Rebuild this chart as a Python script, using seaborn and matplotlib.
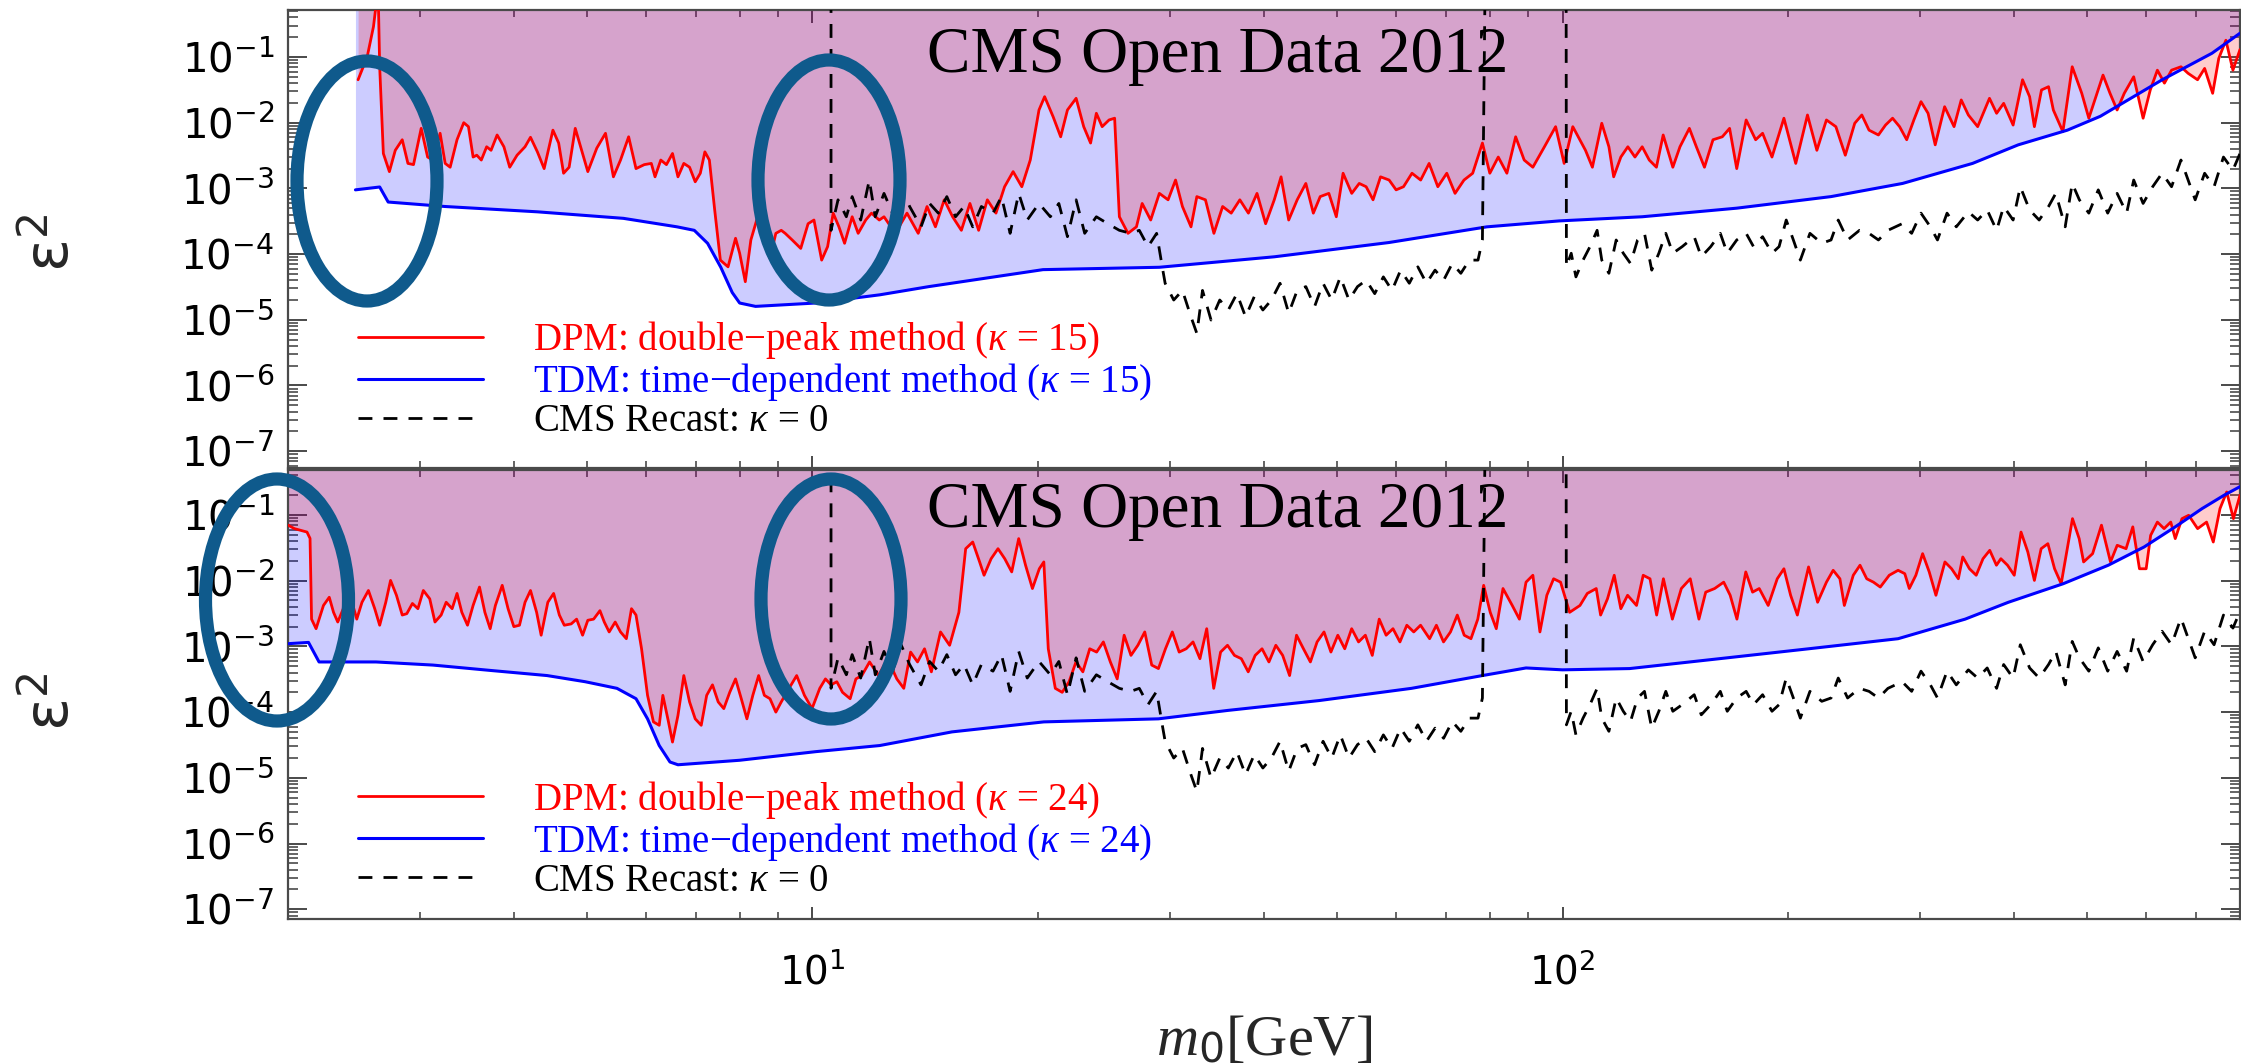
import numpy as np
import matplotlib
matplotlib.use("Agg")
import matplotlib.pyplot as plt
import seaborn as sns
from matplotlib.patches import Ellipse
from matplotlib.ticker import LogLocator, NullFormatter

# ---------------- data ----------------
top_red_x = [2.48, 2.55, 2.60, 2.62, 2.64, 2.65, 2.68, 2.73, 2.78, 2.84, 2.89, 2.94, 3.01, 3.07, 3.12, 3.19, 3.24, 3.29, 3.36, 3.43,
             3.48, 3.53, 3.57, 3.62, 3.68, 3.73, 3.80, 3.88, 3.95, 4.04, 4.14, 4.21, 4.30, 4.39, 4.51, 4.59, 4.66, 4.74, 4.83, 4.94,
             5.02, 5.16, 5.30, 5.43, 5.55, 5.69, 5.82, 5.97, 6.10, 6.17, 6.28, 6.39, 6.51, 6.62, 6.74, 6.86, 6.98, 7.09, 7.19, 7.29,
             7.41, 7.54, 7.72, 7.90, 8.00, 8.14, 8.28, 8.43, 8.60, 8.78, 8.94, 9.09, 9.20, 9.40, 9.65, 9.87, 10.05, 10.29, 10.48, 10.66,
             10.85, 11.04, 11.30, 11.51, 11.78, 11.99, 12.28,
             12.46, 12.90, 13.37, 13.84, 14.22, 14.59, 14.99, 15.38, 15.80, 16.22, 16.66, 17.11, 17.57, 18.04, 18.52, 19.02, 19.52,
             20.05, 20.40, 20.94, 21.43, 21.88, 22.47, 23.0, 23.49, 23.91, 24.34, 24.86, 25.29, 25.66, 26.35, 27.04, 27.52, 28.25,
             29.01, 29.80, 30.49, 31.14, 31.97, 32.55, 33.42, 34.3, 35.23, 36.17, 37.14, 38.13, 39.15, 40.2, 41.28, 42.15, 43.15,
             44.29, 45.48, 46.54, 47.53, 48.81, 49.94, 50.99, 52.36, 53.58, 54.73, 55.9, 57.2, 58.73, 60.0, 61.38, 63.0, 64.7, 66.4,
             68.2, 70.1, 71.9, 73.9, 75.9, 78.2, 80.0, 82.1, 84.3, 86.6, 88.9, 91.3, 94.6, 97.9, 100.5, 103.2,
             107.3, 109.6, 112.8, 115.3, 117.0, 119.6, 122.2, 124.9, 127.7, 130.5, 133.4, 136.2, 140.3, 143.4, 147.6, 150.8, 154.6,
             158.7, 163.3, 167.0, 170.7, 175.7, 180.9, 184.8, 190.2, 197.3, 204.6, 212.1, 218.3, 224.8, 231.4, 238.2, 245.2, 250.6,
             256.2, 263.7, 269.5, 275.4, 281.4, 287.6, 294.0, 300.5, 307.1, 313.9, 323.1, 332.6, 340.0, 347.5, 357.6, 370.8, 379.0,
             387.3, 398.7, 410.4, 419.4, 425.6, 435.0, 444.5, 451.1, 464.5, 478.0, 492.2, 503.0, 525.4, 536.8, 548.6, 560.8, 577.3,
             594.2, 607.4, 620.8, 634.4, 648.4, 667.4, 682.1, 702.3, 717.7, 735.6, 749.5, 766.1, 782.8, 800.0]
top_red_y = [0.045, 0.1, 0.29, 0.6, 0.6, 0.071, 3.4e-3, 1.8e-3, 3.8e-3, 5.5e-3, 2.4e-3, 2.3e-3, 8.2e-3, 3.0e-3, 2.7e-3, 6.9e-3,
             2.4e-3, 2.1e-3, 5.5e-3, 1.0e-2, 8.7e-3, 3.0e-3, 3.2e-3, 2.7e-3, 4.3e-3, 3.8e-3, 6.5e-3, 4.3e-3, 2.1e-3, 3.2e-3,
             4.3e-3, 6.0e-3, 3.6e-3, 2.0e-3, 7.7e-3, 4.9e-3, 1.7e-3, 2.1e-3, 8.2e-3, 3.4e-3, 1.8e-3, 4.1e-3, 6.9e-3, 1.5e-3,
             2.7e-3, 6.1e-3, 2.0e-3, 2.3e-3, 2.4e-3, 1.5e-3, 2.7e-3, 2.3e-3, 3.4e-3, 1.5e-3, 2.4e-3, 2.1e-3, 1.26e-3, 1.7e-3,
             3.6e-3, 2.7e-3, 4.7e-4, 8.1e-5, 6.4e-5, 1.74e-4, 1.03e-4, 3.8e-5, 1.64e-4, 3.3e-4, 1.64e-4, 8.6e-5, 2.07e-4, 2.3e-4,
             2.07e-4, 1.64e-4, 1.22e-4, 2.9e-4, 3.3e-4, 8.1e-5, 1.3e-4, 4.2e-4, 2.6e-4, 1.46e-4, 3.7e-4, 2.07e-4, 3.3e-4, 4.2e-4,
             3.3e-4,
             3.7e-4, 2.07e-4, 4.2e-4, 2.07e-4, 5.3e-4, 2.6e-4, 6.7e-4, 3.7e-4, 2.3e-4, 5.9e-4, 2.3e-4, 6.7e-4, 4.2e-4, 1.06e-3,
             1.8e-3, 1.06e-3, 2.7e-3, 0.0156, 0.0249, 0.0123, 6.1e-3, 0.0156, 0.0235, 8.7e-3, 4.9e-3, 0.0139, 8.7e-3, 0.011, 0.0117,
             3.7e-4, 2.07e-4, 2.6e-4, 5.9e-4, 3.3e-4, 8.4e-4, 6.7e-4, 1.34e-3, 5.3e-4, 2.6e-4, 7.5e-4, 6.7e-4, 2.07e-4, 5.3e-4,
             4.2e-4, 6.7e-4, 4.2e-4, 8.4e-4, 2.9e-4, 6.7e-4, 1.5e-3, 3.3e-4, 6.7e-4, 1.19e-3, 4.2e-4, 7.5e-4, 8.4e-4, 3.7e-4,
             1.7e-3, 8.4e-4, 1.19e-3, 1.06e-3, 6.7e-4, 1.5e-3, 1.34e-3, 9.5e-4, 1.06e-3, 1.7e-3, 1.34e-3, 2.4e-3, 1.06e-3, 1.7e-3,
             8.4e-4, 1.34e-3, 1.7e-3, 4.9e-3, 1.7e-3, 3.0e-3, 1.7e-3, 6.1e-3, 2.7e-3, 2.1e-3, 4.3e-3, 8.7e-3, 2.4e-3, 8.7e-3,
             3.8e-3, 2.1e-3, 9.8e-3, 4.3e-3, 1.5e-3, 3.0e-3, 4.3e-3, 3.0e-3, 4.3e-3, 2.7e-3, 2.1e-3, 6.5e-3, 2.1e-3, 4.3e-3,
             8.2e-3, 4.3e-3, 2.1e-3, 5.5e-3, 6.1e-3, 8.2e-3, 2.0e-3, 0.011, 5.5e-3, 6.9e-3, 3.0e-3, 0.0117, 2.4e-3, 0.0131,
             3.8e-3, 0.011, 8.7e-3, 3.2e-3, 9.8e-3, 0.0131, 7.7e-3, 6.5e-3, 9.2e-3, 0.0117, 8.7e-3, 5.5e-3, 0.011, 0.0209, 0.0139,
             4.6e-3, 0.0175, 8.7e-3, 0.0222, 0.0131, 8.7e-3, 0.0235, 0.0139, 0.0197, 9.2e-3, 0.045, 0.0249, 8.7e-3, 0.0315, 0.0353,
             0.0156, 7.3e-3, 0.071, 0.028, 0.0117, 0.053, 0.028, 0.0156, 0.028, 0.05, 0.0117, 0.0315, 0.063, 0.04, 0.063, 0.071,
             0.0565, 0.045, 0.067, 0.028, 0.095, 0.18, 0.063, 0.13]

top_blue_x = [2.46, 2.65, 2.72, 3.24, 4.3, 5.6, 6.6, 6.96, 7.25, 7.55, 7.82, 8.0, 8.4, 10.1, 12.3, 14.3, 20.3, 29.0, 41.3,
              58.7, 79.3, 99, 127.7, 170.7, 228, 284, 352, 405, 471, 521, 630, 734, 800]
top_blue_y = [9.5e-4, 1.05e-3, 6.2e-4, 5.3e-4, 4.4e-4, 3.5e-4, 2.6e-4, 2.3e-4, 1.46e-4, 6.3e-5, 2.6e-5, 1.8e-5, 1.6e-5,
              1.8e-5, 2.4e-5, 3.2e-5, 5.8e-5, 6.3e-5, 9.1e-5, 1.5e-4, 2.6e-4, 3.2e-4, 3.7e-4, 5.0e-4, 7.5e-4, 1.19e-3,
              2.4e-3, 4.6e-3, 7.7e-3, 0.0125, 0.045, 0.114, 0.23]

bot_red_x = [2.0, 2.04, 2.12, 2.14, 2.15, 2.18, 2.23, 2.27, 2.30, 2.33, 2.38, 2.42, 2.47, 2.51, 2.56, 2.61, 2.65, 2.70, 2.74, 2.79,
             2.84, 2.88, 2.93, 2.98, 3.03, 3.09, 3.14, 3.20, 3.25, 3.31, 3.36, 3.41, 3.47, 3.53, 3.60, 3.66, 3.72, 3.78, 3.86, 3.93,
             4.00, 4.07, 4.14, 4.21, 4.29, 4.35, 4.44, 4.52, 4.60, 4.67, 4.77, 4.85, 4.94, 5.02, 5.11, 5.21, 5.28, 5.36, 5.46, 5.55,
             5.65, 5.74, 5.82, 5.92, 6.03, 6.14, 6.25, 6.32, 6.43, 6.51, 6.62, 6.74, 6.86, 6.98, 7.11, 7.23, 7.36, 7.49, 7.62, 7.76,
             7.90, 8.04, 8.18, 8.33, 8.48, 8.63, 8.78, 8.94, 9.09, 9.31, 9.53, 9.76, 9.99, 10.23, 10.41, 10.59, 10.78, 10.97, 11.23,
             11.43, 11.64, 11.92,
             12.25, 12.60, 12.96, 13.24, 13.52, 13.81, 14.11, 14.41, 14.82, 15.24, 15.68, 16.01, 16.36, 16.71, 16.94, 17.31, 17.68,
             18.05, 18.44, 18.84, 19.24, 19.65, 20.07, 20.35, 20.63, 21.08, 21.53, 21.99, 22.46, 22.94, 23.43, 23.93, 24.43, 24.96,
             25.49, 26.04, 26.59, 27.16, 27.74, 28.34, 28.93, 29.56, 30.19, 30.83, 31.50, 32.17, 32.86, 33.55, 34.28, 35.01, 35.76,
             36.53, 37.31, 38.11, 38.93, 39.76, 40.61, 41.48, 42.36, 43.27, 44.20, 45.15, 46.12, 47.08, 48.09, 49.12, 50.17, 51.25,
             52.35, 53.47, 54.60, 55.77, 56.97, 58.19, 59.43, 60.71, 62.01, 63.34, 64.68, 66.5, 67.9, 69.4, 70.9, 72.4, 73.95, 75.5,
             77.1, 78.5, 80.1, 81.6, 83.3, 85.7, 87.6, 89.4, 91.3, 93.3, 95.3, 97.3, 99.4, 102.2, 105.5,
             107.9, 110.9, 112.4, 114.8, 117.2, 119.6, 122.1, 125.5, 128.1, 130.8, 133.5, 136.3, 140.1, 144.0, 148.0, 152.0, 155.2,
             159.5, 164.0, 167.3, 170.8, 175.5, 179.2, 182.9, 188.0, 193.3, 197.3, 201.4, 205.6, 212.8, 218.8, 224.8, 229.5, 234.3,
             237.5, 244.1, 249.2, 254.4, 259.7, 265.2, 272.6, 280.1, 285.9, 289.9, 295.8, 302.0, 308.2, 314.6, 323.4, 330.1, 337.0,
             341.6, 348.7, 356.0, 363.5, 371.1, 378.8, 384.0, 391.9, 400.1, 408.5, 417.1, 425.6, 434.5, 443.6, 452.8, 462.1, 478.4,
             488.3, 495.0, 508.9, 522.9, 537.6, 548.8, 563.9, 575.7, 587.6, 599.8, 608.1, 620.8, 633.7, 646.8, 655.8, 669.5, 683.4,
             702.4, 722.0, 737.0, 752.3, 768.0, 784.0, 800.0]
bot_red_y = [0.07, 0.062, 0.055, 0.044, 2.6e-3, 1.86e-3, 4.2e-3, 5.6e-3, 3.3e-3, 2.35e-3, 4.2e-3, 6.0e-3, 2.6e-3, 4.7e-3,
             7.1e-3, 3.75e-3, 2.1e-3, 4.7e-3, 1.01e-2, 6.0e-3, 3.0e-3, 3.15e-3, 4.5e-3, 3.75e-3, 7.1e-3, 5.3e-3, 2.35e-3, 3.0e-3,
             4.7e-3, 3.75e-3, 6.4e-3, 3.3e-3, 2.1e-3, 4.2e-3, 8.0e-3, 3.3e-3, 1.86e-3, 4.2e-3, 8.5e-3, 3.75e-3, 2.0e-3, 2.1e-3,
             4.7e-3, 7.1e-3, 3.3e-3, 1.48e-3, 4.7e-3, 6.4e-3, 3.0e-3, 2.1e-3, 2.2e-3, 2.6e-3, 1.48e-3, 2.5e-3, 2.6e-3, 3.5e-3,
             2.35e-3, 1.66e-3, 2.35e-3, 1.66e-3, 1.31e-3, 3.75e-3, 3.0e-3, 9.2e-4, 1.8e-4, 7.1e-5, 6.3e-5, 1.8e-4, 7.1e-5, 3.5e-5,
             8.9e-5, 3.6e-4, 1.43e-4, 7.9e-5, 6.3e-5, 1.8e-4, 2.6e-4, 1.43e-4, 1.13e-4, 2.0e-4, 3.2e-4, 1.6e-4, 7.9e-5, 1.8e-4,
             3.6e-4, 1.8e-4, 1.6e-4, 1.0e-4, 1.43e-4, 2.3e-4, 3.6e-4, 1.8e-4, 1.13e-4, 2.3e-4, 3.2e-4, 2.6e-4, 2.9e-4, 2.0e-4,
             1.6e-4, 3.2e-4, 3.6e-4, 5.8e-4,
             3.6e-4, 6.5e-4, 3.2e-4, 2.3e-4, 8.2e-4, 5.8e-4, 9.2e-4, 4.1e-4, 1.66e-3, 1.04e-3, 3.3e-3, 0.0307, 0.0388, 0.0193,
             0.0121, 0.0216, 0.0307, 0.0216, 0.0136, 0.0437, 0.0172, 7.6e-3, 0.0152, 0.0193, 9.2e-4, 2.3e-4, 2.0e-4, 2.9e-4,
             5.8e-4, 4.1e-4, 9.2e-4, 8.2e-4, 1.17e-3, 5.8e-4, 3.2e-4, 1.48e-3, 7.3e-4, 1.04e-3, 1.66e-3, 5.2e-4, 4.6e-4, 9.2e-4,
             1.66e-3, 8.2e-4, 9.2e-4, 1.17e-3, 6.5e-4, 1.86e-3, 2.3e-4, 8.2e-4, 1.04e-3, 7.3e-4, 6.5e-4, 4.1e-4, 7.3e-4, 9.2e-4,
             5.8e-4, 1.04e-3, 7.3e-4, 3.6e-4, 1.48e-3, 9.2e-4, 5.8e-4, 1.17e-3, 1.66e-3, 8.2e-4, 1.48e-3, 9.2e-4, 1.86e-3,
             1.17e-3, 1.48e-3, 7.3e-4, 2.6e-3, 1.48e-3, 1.86e-3, 1.17e-3, 2.1e-3, 1.66e-3, 2.1e-3, 1.31e-3, 2.1e-3, 1.17e-3,
             1.66e-3, 3.0e-3, 1.48e-3, 1.31e-3, 2.6e-3, 8.5e-3, 3.3e-3, 1.86e-3, 7.6e-3, 4.2e-3, 2.6e-3, 9.5e-3, 0.0121, 1.66e-3,
             6.0e-3, 0.0107, 9.5e-3, 3.3e-3, 4.2e-3,
             6.4e-3, 7.6e-3, 3.0e-3, 5.3e-3, 0.0121, 3.75e-3, 6.0e-3, 4.2e-3, 0.0121, 0.0107, 3.0e-3, 0.0107, 2.6e-3, 7.6e-3,
             0.0107, 2.6e-3, 6.7e-3, 7.6e-3, 9.5e-3, 6.0e-3, 2.6e-3, 0.0136, 6.7e-3, 7.6e-3, 4.2e-3, 0.0107, 0.0152, 6.0e-3,
             3.0e-3, 0.0162, 4.7e-3, 9.5e-3, 0.0144, 0.0107, 4.2e-3, 0.0121, 0.0172, 0.0107, 9.5e-3, 8.0e-3, 0.0121, 0.0144,
             0.0128, 7.6e-3, 0.0121, 0.0258, 0.0136, 6.0e-3, 0.0193, 0.0152, 0.0107, 0.023, 0.0152, 0.0121, 0.0216, 0.029, 0.0172,
             0.0216, 0.0172, 0.0121, 0.055, 0.0274, 0.0101, 0.0307, 0.0366, 0.0152, 9.0e-3, 0.088, 0.0437, 0.0193, 0.0258, 0.07,
             0.0193, 0.0346, 0.0307, 0.066, 0.0152, 0.0152, 0.049, 0.078, 0.062, 0.078, 0.0437, 0.088, 0.099, 0.062, 0.078,
             0.0388, 0.125, 0.224, 0.088, 0.2]

bot_blue_x = [2.0, 2.13, 2.20, 2.62, 3.12, 3.73, 4.43, 4.98, 5.49, 5.82, 6.03, 6.25, 6.46, 6.62, 8.0, 10.1, 12.3, 15.35,
              20.35, 28.93, 35.76, 47.4, 62.9, 78.2, 89.4, 100.0, 122.9, 161.8, 212.8, 280.1, 344.1, 393, 465, 534, 596,
              655.8, 712, 762, 800]
bot_blue_y = [1.1e-3, 1.15e-3, 5.8e-4, 5.8e-4, 5.2e-4, 4.3e-4, 3.6e-4, 2.9e-4, 2.3e-4, 1.6e-4, 7.9e-5, 3.1e-5, 1.74e-5,
              1.58e-5, 1.85e-5, 2.5e-5, 3.1e-5, 5.0e-5, 7.1e-5, 7.9e-5, 1.06e-4, 1.5e-4, 2.3e-4, 3.6e-4, 4.7e-4, 4.4e-4,
              4.6e-4, 6.5e-4, 9.2e-4, 1.31e-3, 2.6e-3, 4.7e-3, 9.0e-3, 0.0172, 0.0326, 0.066, 0.125, 0.20, 0.27]

# CMS recast (kappa = 0); the value 5.0 marks where the bound leaves the plot (vertical edges)
cms_x = [10.59, 10.59, 10.82, 11.10, 11.30, 11.60, 11.91, 12.13, 12.46, 12.79, 13.13, 13.48, 13.96, 14.33, 14.72, 15.11,
         15.52, 15.93, 16.36, 16.80, 17.41, 17.87, 18.35, 18.84, 19.34, 20.05, 20.76, 21.31, 21.88, 22.47, 23.07, 23.91,
         24.77, 25.66, 26.57, 27.28, 28.02, 28.77, 29.27, 29.53, 30.32, 31.14, 31.97, 32.55, 33.12, 34.0, 34.92, 35.85,
         36.81, 37.80, 38.82, 39.86, 40.92, 42.02, 43.15, 44.29, 45.48, 46.71, 47.95, 49.24, 50.56, 51.92, 53.30, 54.73,
         56.19, 57.70, 59.25, 60.84, 62.48, 64.14, 65.86, 67.62, 69.42, 71.28, 73.19, 75.13, 77.15, 78.2, 78.94, 101.1,
         101.2, 102.7, 104.2, 106.5, 108.8, 111.2, 112.8, 115.3, 117.9, 120.5, 123.2, 125.9, 128.6, 131.5, 134.4, 137.3,
         140.3, 144.4, 149.8, 153.1, 157.6, 162.3, 165.8, 170.7, 175.7, 179.7, 184.8, 190.2, 194.4, 198.7, 203.1, 207.5,
         213.7, 221.6, 228.0, 233.1, 239.9, 248.8, 256.2, 263.7, 271.5, 283.6, 292.0, 300.5, 309.3, 316.1, 325.5, 334.9,
         347.5, 357.6, 368.2, 379.0, 387.3, 398.7, 407.6, 419.4, 431.9, 444.5, 454.5, 467.8, 478.0, 488.6, 503.0, 517.8,
         533.0, 548.6, 564.9, 577.3, 594.2, 611.9, 629.8, 648.4, 667.4, 682.1, 697.2, 717.7, 738.8, 760.4, 782.8, 800.0]
cms_y = [5.0, 2.3e-4, 6.7e-4, 3.7e-4, 7.5e-4, 3.3e-4, 1.34e-3, 3.7e-4, 8.4e-4, 4.2e-4, 1.06e-3, 5.3e-4, 2.6e-4, 5.9e-4,
         4.2e-4, 7.5e-4, 3.7e-4, 5.3e-4, 2.6e-4, 5.3e-4, 4.2e-4, 7.5e-4, 2.07e-4, 8.4e-4, 3.3e-4, 5.9e-4, 3.7e-4, 5.9e-4,
         1.84e-4, 6.7e-4, 2.07e-4, 3.7e-4, 2.9e-4, 2.3e-4, 2.07e-4, 2.3e-4, 1.3e-4, 2.07e-4, 6.4e-5, 3.6e-5, 2.0e-5, 2.8e-5,
         1.11e-5, 6.2e-6, 2.8e-5, 9.9e-6, 2.0e-5, 1.41e-5, 2.5e-5, 1.11e-5, 2.25e-5, 1.41e-5, 2.0e-5, 3.6e-5, 1.26e-5,
         2.8e-5, 3.2e-5, 1.58e-5, 3.6e-5, 2.0e-5, 4.5e-5, 2.0e-5, 3.2e-5, 4.0e-5, 2.5e-5, 4.5e-5, 2.8e-5, 5.7e-5, 3.6e-5,
         6.4e-5, 3.6e-5, 5.7e-5, 4.0e-5, 7.2e-5, 5.1e-5, 8.1e-5, 8.1e-5, 1.64e-4, 5.0, 5.0,
         6.4e-5, 1.03e-4, 4.5e-5, 8.1e-5, 1.3e-4, 2.3e-4, 8.1e-5, 5.1e-5, 1.64e-4, 1.03e-4, 7.2e-5, 1.64e-4, 2.07e-4, 5.7e-5,
         1.03e-4, 2.07e-4, 1.03e-4, 1.3e-4, 1.84e-4, 9.1e-5, 1.3e-4, 2.07e-4, 1.03e-4, 1.64e-4, 2.07e-4, 1.3e-4, 1.84e-4,
         1.03e-4, 1.3e-4, 3.3e-4, 1.64e-4, 8.1e-5, 2.07e-4, 1.46e-4, 1.64e-4, 3.3e-4, 1.64e-4, 2.3e-4, 2.07e-4, 1.64e-4,
         2.3e-4, 2.9e-4, 2.07e-4, 4.2e-4, 2.6e-4, 1.64e-4, 4.2e-4, 2.6e-4, 4.4e-4, 3.3e-4, 4.7e-4, 2.3e-4, 5.3e-4, 3.3e-4,
         1.06e-3, 4.7e-4, 3.3e-4, 5.3e-4, 8.4e-4, 2.6e-4, 1.19e-3, 6.7e-4, 4.2e-4, 9.5e-4, 4.2e-4, 8.4e-4, 4.2e-4, 1.34e-3,
         5.9e-4, 1.06e-3, 1.7e-3, 1.06e-3, 2.7e-3, 1.34e-3, 6.7e-4, 1.7e-3, 1.06e-3, 3.0e-3, 1.9e-3, 3.4e-3]

kappas = [15, 24]
panel_title = "CMS Open Data 2012"

# ---------------- style ----------------
sns.set_theme(style="ticks")
plt.rcParams.update({
    "font.family": ["DejaVu Sans"],
    "mathtext.fontset": "custom",
    "mathtext.rm": "DejaVu Sans",
    "mathtext.it": "Liberation Serif:italic",
    "mathtext.bf": "DejaVu Sans:bold",
    "axes.edgecolor": "#4a4a4a",
    "axes.linewidth": 1.6,
    "xtick.color": "#4a4a4a",
    "ytick.color": "#4a4a4a",
    "xtick.labelcolor": "black",
    "ytick.labelcolor": "black",
})

W, H = 2241, 1064
fig = plt.figure(figsize=(W / 100, H / 100), dpi=100)
ax1 = fig.add_axes([288 / W, 1 - 468 / H, 1952 / W, 458 / H])
ax2 = fig.add_axes([288 / W, 1 - 919 / H, 1952 / W, 449 / H])


def draw_panel(ax, rx, ry, bx, by, kappa, ylim, title_y, leg_y):
    ax.set_xscale("log")
    ax.set_yscale("log")
    ax.fill_between(bx, by, 10, color="#0000ff", alpha=0.2, lw=0, zorder=1)
    ax.fill_between(rx, ry, 10, color="#ff0000", alpha=0.2, lw=0, zorder=1)
    sns.lineplot(x=rx, y=ry, ax=ax, color="#ff0000", lw=2.0, estimator=None, sort=False,
                 label=f"DPM: double\u2212peak method ($\\kappa$ = {kappa})", zorder=3)
    sns.lineplot(x=bx, y=by, ax=ax, color="#0000ff", lw=2.2, estimator=None, sort=False,
                 label=f"TDM: time\u2212dependent method ($\\kappa$ = {kappa})", zorder=3)
    sns.lineplot(x=cms_x, y=cms_y, ax=ax, color="black", lw=2.0, estimator=None, sort=False,
                 linestyle=(0, (5, 4)), label="CMS Recast: $\\kappa$ = 0", zorder=4)
    ax.set_xlim(2, 800)
    ax.set_ylim(*ylim)
    ax.xaxis.set_major_locator(LogLocator(base=10, numticks=10))
    ax.xaxis.set_minor_locator(LogLocator(base=10, subs=np.arange(2, 10), numticks=50))
    ax.yaxis.set_major_locator(LogLocator(base=10, numticks=20))
    ax.yaxis.set_minor_locator(LogLocator(base=10, subs=np.arange(2, 10), numticks=100))
    ax.xaxis.set_minor_formatter(NullFormatter())
    ax.yaxis.set_minor_formatter(NullFormatter())
    ax.tick_params(axis="both", which="both", direction="in", top=True, right=True)
    ax.tick_params(axis="x", which="major", length=9, width=1.4, labelsize=28, pad=24)
    ax.tick_params(axis="x", which="minor", length=5, width=1.2)
    ax.tick_params(axis="y", which="major", length=14, width=1.4, labelsize=29, pad=10)
    ax.tick_params(axis="y", which="minor", length=7, width=1.2)
    ax.set_xlabel("")
    ax.set_ylabel("")
    ax.text(0.4765, title_y, panel_title, transform=ax.transAxes, ha="center", va="baseline",
            fontsize=47, family="Liberation Serif", color="black", zorder=2)
    ax.legend(loc="upper left", bbox_to_anchor=(0.0359, leg_y), frameon=False,
              prop={"family": "Liberation Serif", "size": 28}, handlelength=3.2, handletextpad=1.3,
              labelspacing=0.0, borderpad=0, borderaxespad=0, labelcolor="linecolor")


draw_panel(ax1, top_red_x, top_red_y, top_blue_x, top_blue_y, kappas[0], (5.55e-8, 0.519), 0.865, 0.325)
draw_panel(ax2, bot_red_x, bot_red_y, bot_blue_x, bot_blue_y, kappas[1], (7.1e-8, 0.484), 0.873, 0.312)
ax1.tick_params(axis="x", which="both", labelbottom=False)

# axis titles
for cy in (243, 702):
    fig.text(52 / W, 1 - cy / H, "$\\mathrm{\u03b5}^{2}$", rotation=90, ha="center", va="center", fontsize=44)
fig.text(1264 / W, 1 - 1042 / H, "$m_{\\mathit{0}}$[GeV]", family="Liberation Serif", fontsize=42,
         ha="center", va="center")

# hand-drawn highlight ellipses of the reference
for cx, cy, w, h in [(367, 181, 140, 240), (829, 180, 142, 240), (277, 600, 143, 242), (831, 599, 140, 240)]:
    fig.add_artist(Ellipse((cx / W, 1 - cy / H), w / W, h / H, transform=fig.transFigure, fill=False,
                           edgecolor="#0f5a8c", lw=9.5, zorder=20))

fig.savefig("out.png", dpi=100)
